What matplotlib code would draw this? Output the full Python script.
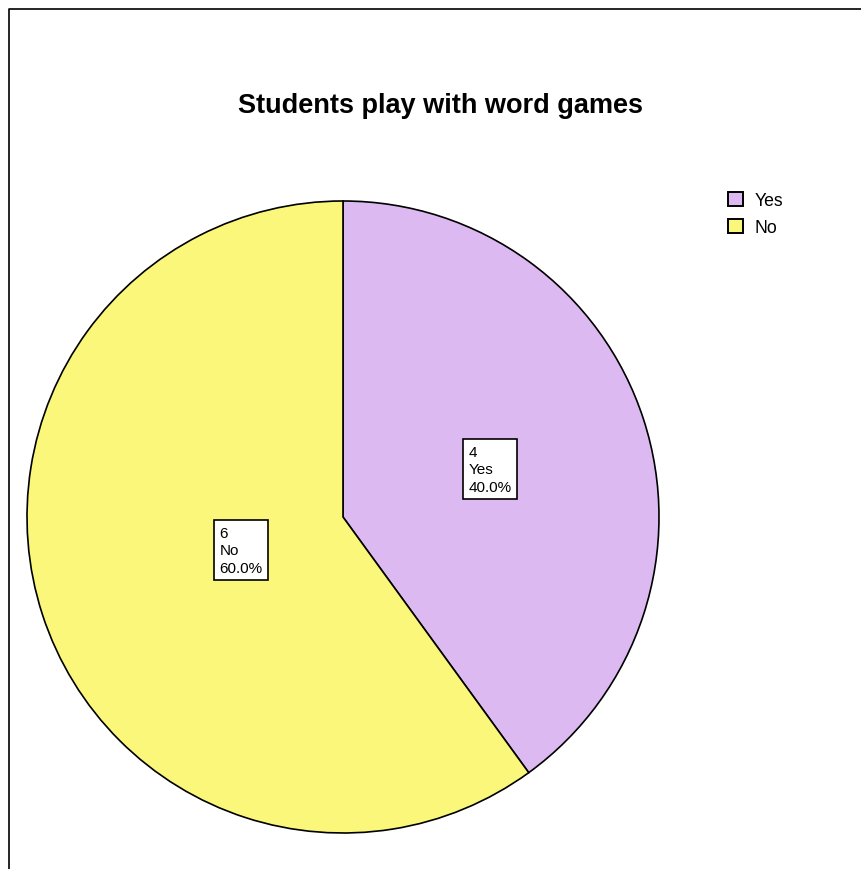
import numpy as np
import matplotlib
matplotlib.use('Agg')
import matplotlib.pyplot as plt
from matplotlib.lines import Line2D
from matplotlib.patches import Patch

plt.rcParams['font.family'] = ['Liberation Sans', 'DejaVu Sans']

# Survey counts
labels = ['Yes', 'No']
counts = [4, 6]
colors = ['#DDB9F2', '#FAF77A']
# how far from the centre each value box sits (fraction of radius)
label_dist = [0.49, 0.34]

W, H = 861, 870
fig = plt.figure(figsize=(W / 100, H / 100), dpi=100)

# pie centre and radius in pixels
cx, cy, r = 343, 518, 316
ax = fig.add_axes([(cx - r) / W, (H - cy - r) / H, 2 * r / W, 2 * r / H])

wedges, _ = ax.pie(counts, colors=colors, startangle=90, counterclock=False,
                   wedgeprops=dict(edgecolor='black', linewidth=1.2))
ax.set_xlim(-1, 1)
ax.set_ylim(-1, 1)

total = sum(counts)
for w, lab, n, d in zip(wedges, labels, counts, label_dist):
    ang = np.deg2rad((w.theta1 + w.theta2) / 2)
    txt = '%d\n%s\n%.1f%%' % (n, lab, 100.0 * n / total)
    ax.text(d * np.cos(ang), d * np.sin(ang), txt, fontsize=11,
            ha='center', va='center', multialignment='left', linespacing=1.32,
            bbox=dict(boxstyle='square,pad=0.35', facecolor='white',
                      edgecolor='black', linewidth=1.2))

fig.text(441 / W, 1 - 113 / H, 'Students play with word games',
         fontsize=19.5, fontweight='bold', ha='center', va='baseline')

handles = [Patch(facecolor=c, edgecolor='black', linewidth=1.4) for c in colors]
fig.legend(handles, labels, loc='upper left', bbox_to_anchor=(728 / W, 1 - 193 / H),
           frameon=False, fontsize=12.7, handlelength=0.85, handleheight=0.85,
           handletextpad=0.65, labelspacing=0.55, borderaxespad=0, borderpad=0)

# outer frame: left and top edges only
fig.add_artist(Line2D([9 / W, 9 / W, 1], [0, 1 - 10 / H, 1 - 10 / H],
                      transform=fig.transFigure, color='black', linewidth=1.2))

fig.savefig('out.png', dpi=100)
